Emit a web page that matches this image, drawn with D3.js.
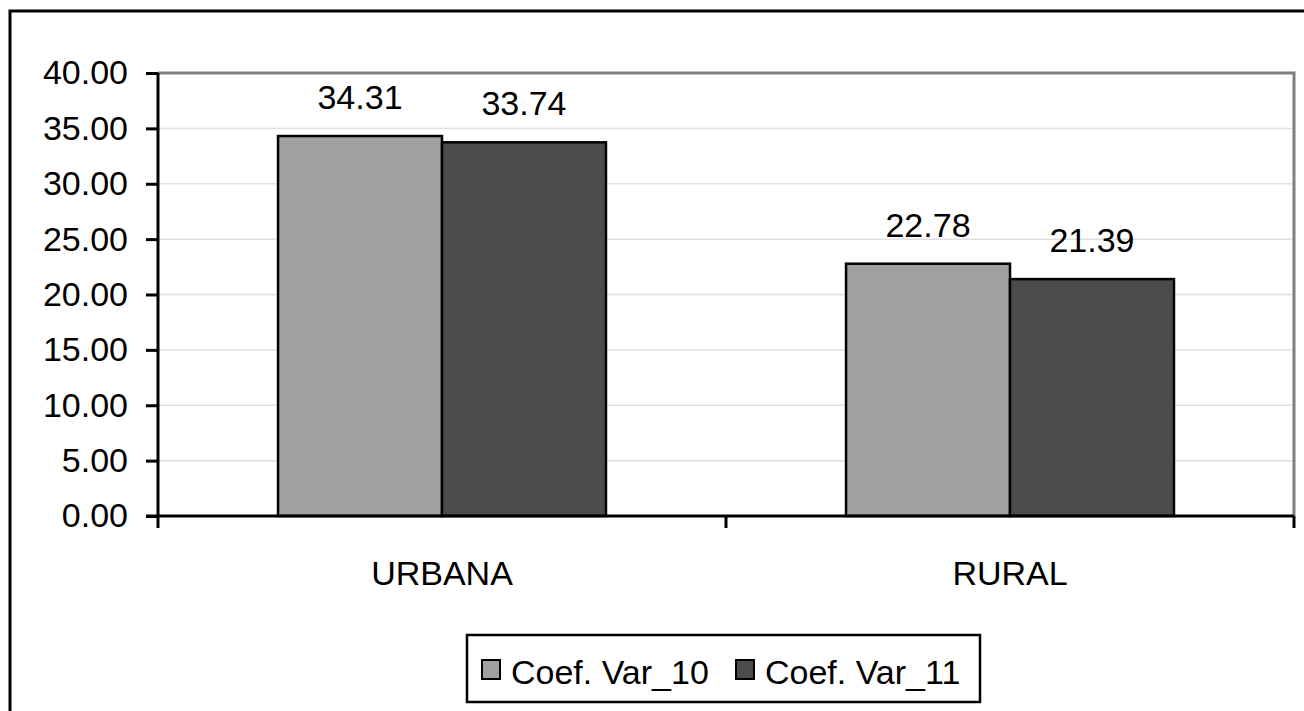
<!DOCTYPE html>
<html>
<head>
<meta charset="utf-8">
<script src="https://cdn.jsdelivr.net/npm/d3@7"></script>
<style>
  body { margin: 0; background: #fff; }
  svg text { font-family: 'Liberation Sans', Arial, sans-serif; fill: #000; }
</style>
</head>
<body>
<div id="canvas"></div>
<script>
const categories = ['URBANA', 'RURAL'];
const seriesNames = ['Coef. Var_10', 'Coef. Var_11'];
const var10 = [34.31, 22.78];
const var11 = [33.74, 21.39];
const yTicks = [0, 5, 10, 15, 20, 25, 30, 35, 40];

const colors = ['#a0a0a0', '#4b4b4b'];
const w = 1304, h = 711;
const plotLeft = 158, plotRight = 1294, plotTop = 73, plotBottom = 516;
const fontSize = 34;

const svg = d3.select('#canvas').append('svg')
  .attr('width', w)
  .attr('height', h);

// outer frame
svg.append('rect')
  .attr('x', 10).attr('y', 11)
  .attr('width', 1400).attr('height', 800)
  .attr('fill', 'none')
  .attr('stroke', '#000')
  .attr('stroke-width', 3);

const x0 = d3.scaleBand().domain(categories).range([plotLeft, plotRight]).padding(0);
const x1 = d3.scaleBand().domain(seriesNames).range([0, x0.bandwidth()])
  .paddingInner(0).paddingOuter(0.732);
const y = d3.scaleLinear().domain([0, 40]).range([plotBottom, plotTop]);

// gridlines
svg.append('g')
  .selectAll('line')
  .data(yTicks.filter(d => d > 0))
  .join('line')
  .attr('x1', plotLeft).attr('x2', plotRight)
  .attr('y1', d => y(d)).attr('y2', d => y(d))
  .attr('stroke', '#e0e0e0')
  .attr('stroke-width', 1.5);

// plot border top and right (gray)
svg.append('path')
  .attr('d', `M${plotLeft},${plotTop}H${plotRight}V${plotBottom}`)
  .attr('fill', 'none')
  .attr('stroke', '#808080')
  .attr('stroke-width', 3);

const rows = categories.map((c, i) => ({ cat: c, values: [var10[i], var11[i]] }));

const groups = svg.selectAll('.grp')
  .data(rows)
  .join('g')
  .attr('class', 'grp')
  .attr('transform', d => 'translate(' + x0(d.cat) + ',0)');

groups.selectAll('rect')
  .data(d => d.values.map((v, j) => ({ name: seriesNames[j], v: v, j: j })))
  .join('rect')
  .attr('x', d => x1(d.name))
  .attr('y', d => y(d.v))
  .attr('width', x1.bandwidth())
  .attr('height', d => y(0) - y(d.v))
  .attr('fill', d => colors[d.j])
  .attr('stroke', '#000')
  .attr('stroke-width', 2.5);

groups.selectAll('text')
  .data(d => d.values.map((v, j) => ({ name: seriesNames[j], v: v })))
  .join('text')
  .attr('x', d => x1(d.name) + x1.bandwidth() / 2)
  .attr('y', d => y(d.v) - 27)
  .attr('text-anchor', 'middle')
  .style('font-size', fontSize + 'px')
  .text(d => d.v.toFixed(2));

// y axis
const yAxis = d3.axisLeft(y)
  .tickValues(yTicks)
  .tickFormat(d3.format('.2f'))
  .tickSize(12)
  .tickPadding(18);

const gy = svg.append('g')
  .attr('transform', 'translate(' + plotLeft + ',0)')
  .call(yAxis);
gy.select('.domain').remove();
gy.selectAll('.tick line').attr('stroke', '#000').attr('stroke-width', 3);
gy.selectAll('.tick text').style('font-size', fontSize + 'px').attr('font-family', null);
gy.attr('font-family', null).attr('font-size', null);

svg.append('line')
  .attr('x1', plotLeft).attr('x2', plotLeft)
  .attr('y1', plotTop).attr('y2', plotBottom)
  .attr('stroke', '#000').attr('stroke-width', 3);

// x axis
const gx = svg.append('g')
  .attr('transform', 'translate(0,' + plotBottom + ')');
gx.append('line')
  .attr('x1', plotLeft - 12).attr('x2', plotRight)
  .attr('stroke', '#000').attr('stroke-width', 3);
gx.selectAll('.cat-tick')
  .data([plotLeft, x0(categories[1]), plotRight])
  .join('line')
  .attr('class', 'cat-tick')
  .attr('x1', d => d).attr('x2', d => d)
  .attr('y1', 0).attr('y2', 12)
  .attr('stroke', '#000').attr('stroke-width', 3);
gx.selectAll('text')
  .data(categories)
  .join('text')
  .attr('x', d => x0(d) + x0.bandwidth() / 2)
  .attr('y', 69)
  .attr('text-anchor', 'middle')
  .style('font-size', fontSize + 'px')
  .text(d => d);

// legend
const legend = svg.append('g');
legend.append('rect')
  .attr('x', 467).attr('y', 635)
  .attr('width', 513).attr('height', 67)
  .attr('fill', '#fff')
  .attr('stroke', '#000')
  .attr('stroke-width', 2.5);

const itemX = [482, 736];
seriesNames.forEach((s, i) => {
  legend.append('rect')
    .attr('x', itemX[i]).attr('y', 660)
    .attr('width', 18).attr('height', 19)
    .attr('fill', colors[i])
    .attr('stroke', '#000')
    .attr('stroke-width', 2);
  legend.append('text')
    .attr('x', itemX[i] + 29)
    .attr('y', 684)
    .style('font-size', fontSize + 'px')
    .text(s);
});
</script>
</body>
</html>
